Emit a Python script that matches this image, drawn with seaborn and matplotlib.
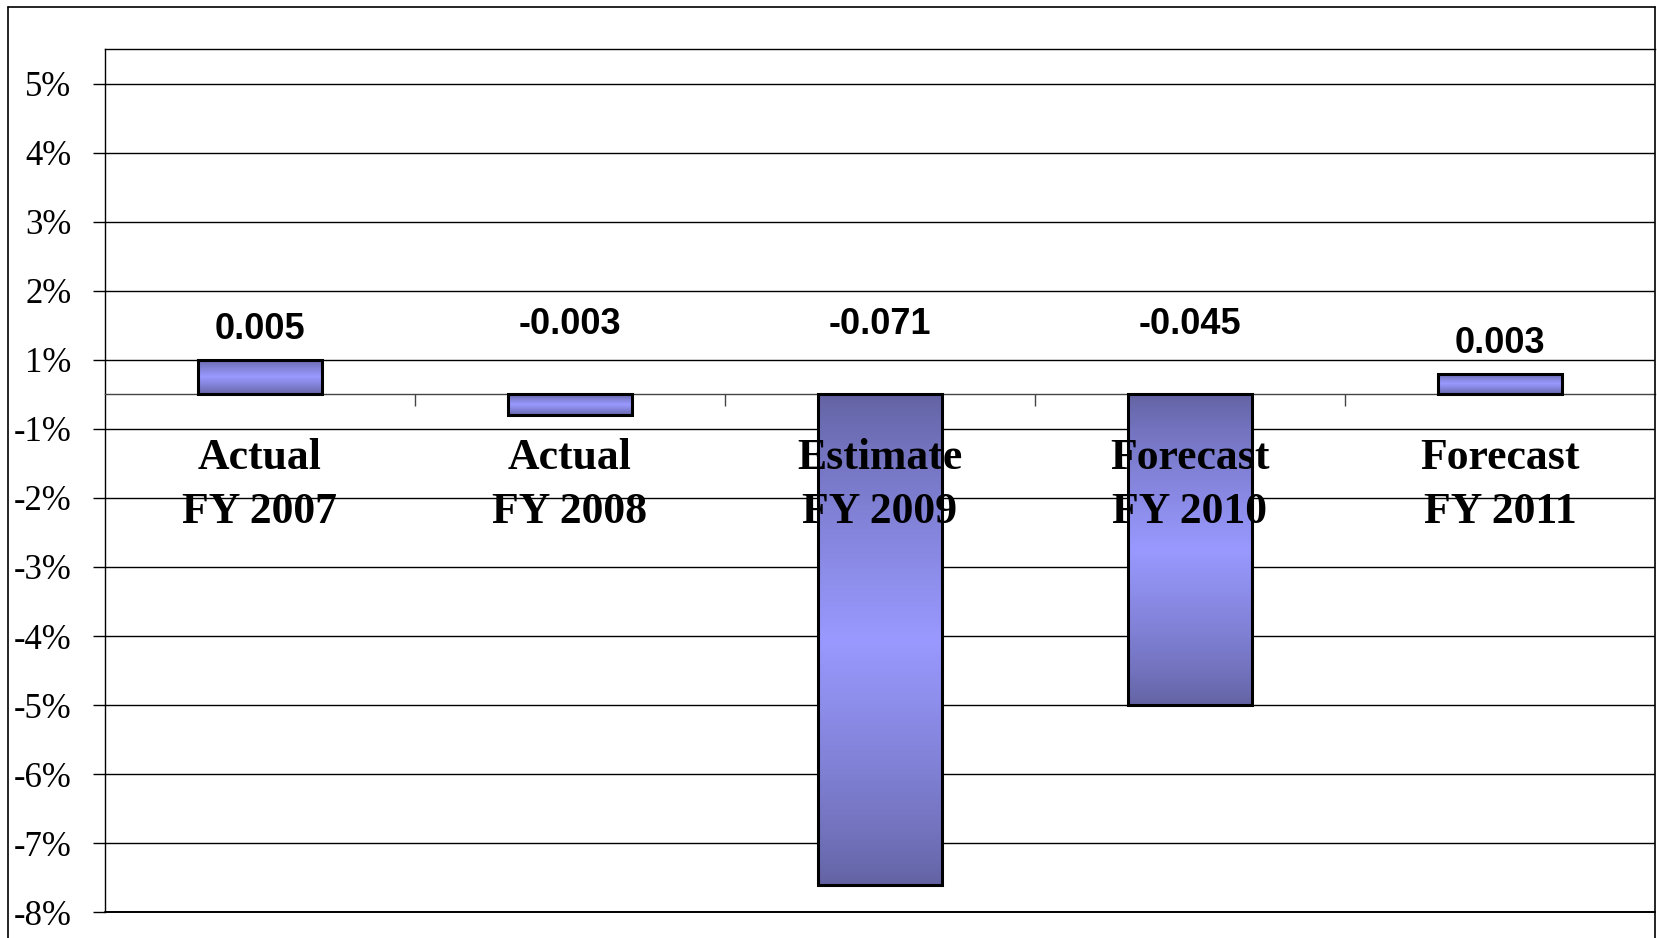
import numpy as np
import matplotlib
matplotlib.use("Agg")
import matplotlib.pyplot as plt
from matplotlib.lines import Line2D
import seaborn as sns

# ---- data ----
categories = ["Actual\nFY 2007", "Actual\nFY 2008", "Estimate\nFY 2009",
              "Forecast\nFY 2010", "Forecast\nFY 2011"]
values = [0.005, -0.003, -0.071, -0.045, 0.003]
ytick_values = [-0.075, -0.065, -0.055, -0.045, -0.035, -0.025, -0.015,
                -0.005, 0.005, 0.015, 0.025, 0.035, 0.045]
ytick_labels = ["-8%", "-7%", "-6%", "-5%", "-4%", "-3%", "-2%",
                "-1%", "1%", "2%", "3%", "4%", "5%"]

W, H = 1657, 938
sns.set_style("white")
plt.rcParams["text.color"] = "black"
plt.rcParams["ytick.labelcolor"] = "black"
plt.rcParams["xtick.labelcolor"] = "black"
fig = plt.figure(figsize=(W / 100, H / 100), dpi=100)
fig.patch.set_facecolor("white")

left_px, right_px, top_px, bottom_px = 105, 1655, 49, 912.3
ax = fig.add_axes([left_px / W, 1 - bottom_px / H,
                   (right_px - left_px) / W, (bottom_px - top_px) / H])

sns.barplot(x=categories, y=values, ax=ax, width=0.403, color="#9999FF",
            saturation=1, edgecolor="black", linewidth=2.2, zorder=3)

dark = np.array([0.384, 0.384, 0.635])
light = np.array([0.60, 0.60, 1.0])
for p in ax.patches:
    x0, y0 = p.get_x(), p.get_y()
    w, h = p.get_width(), p.get_height()
    ylo, yhi = min(y0, y0 + h), max(y0, y0 + h)
    t = np.linspace(0, 1, 256)
    f = 1 - np.abs(2 * t - 1)
    f = f ** 0.8
    cols = dark[None, :] + (light - dark)[None, :] * f[:, None]
    img = np.repeat(cols[:, None, :], 2, axis=1)
    im = ax.imshow(img, extent=[x0, x0 + w, ylo, yhi], origin="lower",
                   aspect="auto", zorder=2.9, interpolation="bilinear")
    im.set_clip_path(p)
    p.set_facecolor("none")

ax.set_xlim(-0.5, len(categories) - 0.5)
ax.set_ylim(-0.075, 0.05)
ax.set_aspect("auto")

# grid and axes
ax.set_axisbelow(True)
ax.set_yticks(ytick_values)
ax.set_yticklabels(ytick_labels, family="Liberation Serif", fontsize=25,
                   color="black")
ax.yaxis.grid(True, color="black", linewidth=1.0)
ax.axhline(ytick_values[0], color="black", linewidth=1.4, clip_on=False, zorder=1)
ax.tick_params(axis="y", direction="out", length=8.6, width=1.0,
               color="black", pad=15.5, left=True)

ax.set_xticks([i + 0.5 for i in range(len(categories) - 1)])
ax.set_xticklabels([])
ax.tick_params(axis="x", direction="out", length=8.6, width=1.0,
               color="#444444", bottom=True)
ax.spines["bottom"].set_position(("data", 0))
ax.spines["bottom"].set_color("#444444")
ax.spines["bottom"].set_linewidth(1.0)
ax.spines["right"].set_visible(False)
for s in ["left", "top"]:
    ax.spines[s].set_color("black")
    ax.spines[s].set_linewidth(1.0)
ax.set_xlabel("")
ax.set_ylabel("")

# category labels (drawn over bars)
for i, c in enumerate(categories):
    ax.text(i, -0.0131, c, ha="center", va="center", family="Liberation Serif",
            fontweight="bold", fontsize=31.5, linespacing=1.45, zorder=6,
            color="black")

# data labels
for i, v in enumerate(values):
    y = v + 0.0044 if v > 0 else 0.0101
    ax.text(i, y, f"{v:.3f}", ha="center", va="center",
            family="Liberation Sans", fontweight="bold", fontsize=26, zorder=6,
            color="black")

# outer chart frame
fx0, fx1, fy0 = 8 / W, 1655 / W, 1 - 7 / H
for xs, ys in [([fx0, fx0], [-0.01, fy0]), ([fx0, fx1], [fy0, fy0]),
               ([fx1, fx1], [fy0, -0.01])]:
    fig.add_artist(Line2D(xs, ys, color="black", linewidth=1.2,
                          transform=fig.transFigure))

fig.savefig("out.png", dpi=100)
